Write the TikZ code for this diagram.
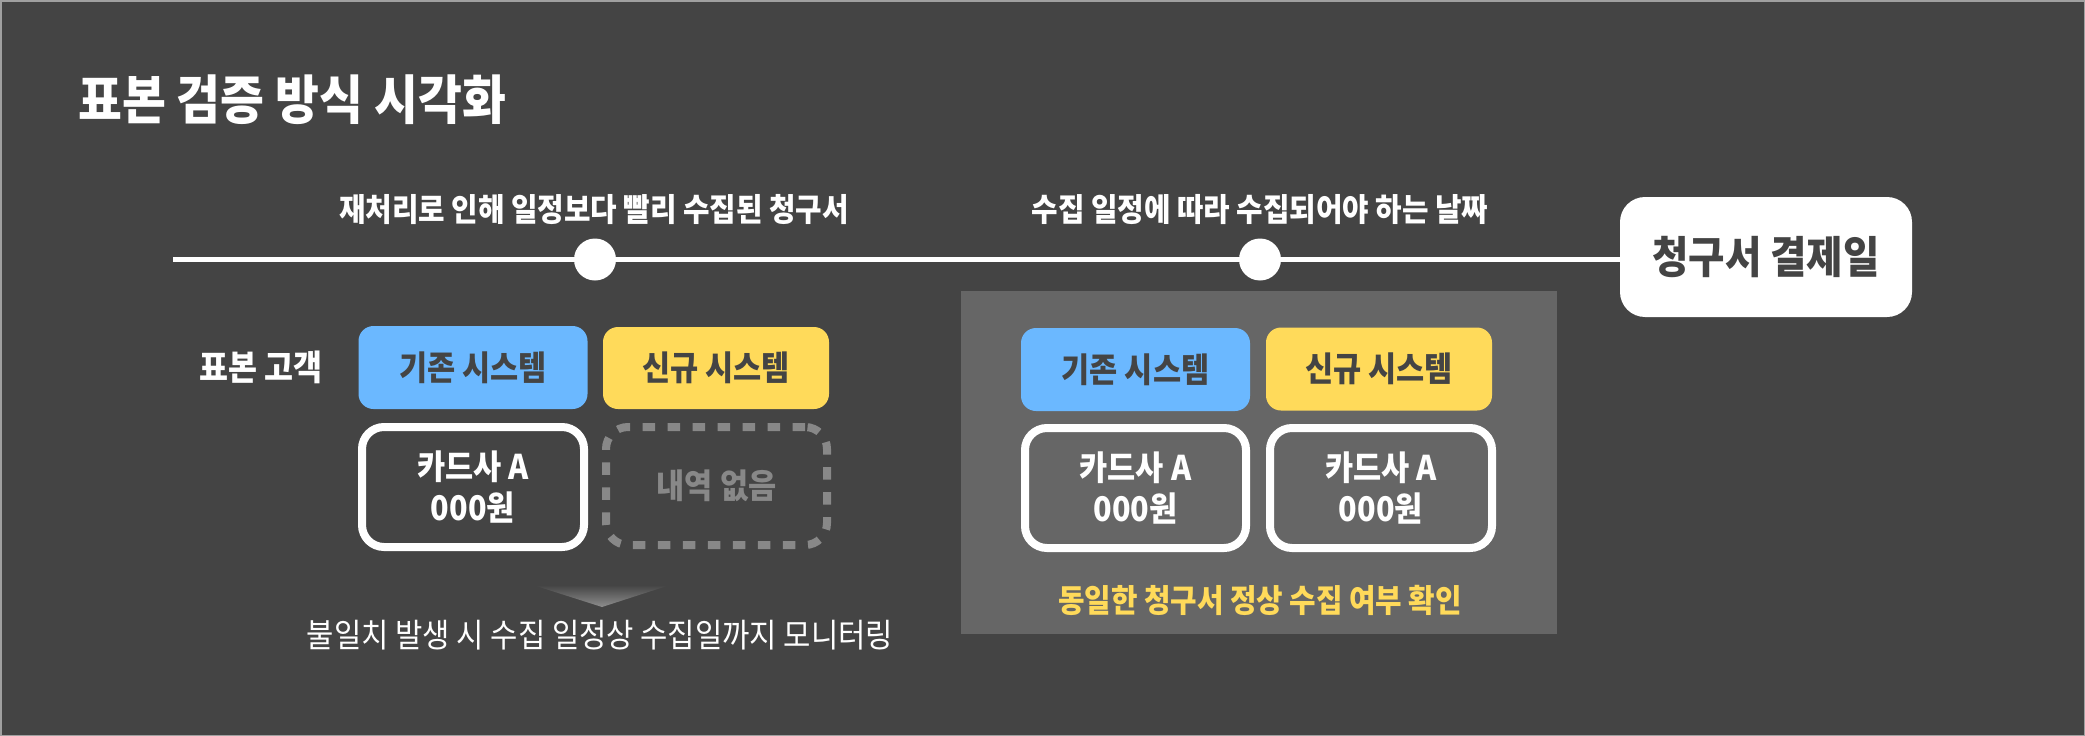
\documentclass[tikz,border=0pt]{standalone}
\usepackage{fontspec}
\newfontfamily\kr{Noto Sans CJK KR}[FakeStretch=0.9]
\definecolor{bg}{HTML}{444444}
\definecolor{panel}{HTML}{666666}
\definecolor{edge}{HTML}{A0A0A0}
\definecolor{sysblue}{HTML}{6BB8FF}
\definecolor{sysyellow}{HTML}{FFDA5A}
\definecolor{dashgray}{HTML}{888888}
\definecolor{tipgray}{HTML}{8E8E8E}
\newcommand{\fsz}[1]{\fontsize{#1}{#1}\selectfont}
\tikzset{
  txt/.style={font=\kr\bfseries\fsz{#1}, text=white, inner sep=0pt},
  sysbox/.style={rounded corners=15, minimum width=229, minimum height=83, inner sep=0pt,
    font=\kr\bfseries\fsz{34}, text=bg},
  cardbox/.style={draw=white, line width=8, rounded corners=22, minimum width=222, minimum height=120,
    inner sep=0pt, align=center, font=\kr\bfseries\fontsize{34}{41}\selectfont, text=white},
  emptybox/.style={draw=dashgray, line width=8, dash pattern=on 12.5 off 12.5, rounded corners=22,
    minimum width=221, minimum height=118, inner sep=0pt, font=\kr\bfseries\fsz{34}, text=dashgray},
  dot/.style={circle, fill=white, minimum size=42, inner sep=0pt},
}
\begin{document}
\begin{tikzpicture}[x=1pt,y=-1pt]
\useasboundingbox (0,0) rectangle (2085,736);
\fill[bg] (0,0) rectangle (2085,736);
\draw[edge, line width=1.5] (0.75,0.75) rectangle (2084.25,735.25);

% title
\node[txt=53, anchor=west] (title) at (78,100) {표본 검증 방식 시각화};

% timeline
\node[txt=32] (lab1) at (594,210) {재처리로 인해 일정보다 빨리 수집된 청구서};
\node[txt=32] (lab2) at (1260,210) {수집 일정에 따라 수집되어야 하는 날짜};
\node[fill=white, rounded corners=25, minimum width=292, minimum height=120, inner sep=0pt,
  font=\kr\bfseries\fsz{44}, text=bg] (pay) at (1766,257) {청구서 결제일};
\coordinate (tstart) at (173,259.5);
\draw[white, line width=5] (tstart) -- (tstart -| pay.west);
\node[dot] (c1) at (595,259.5) {};
\node[dot] (c2) at (1260,259.5) {};

% right panel
\fill[panel] (961,291) rectangle (1557,634);

% left group
\node[txt=35] (cust) at (261,367) {표본 고객};
\node[sysbox, fill=sysblue] (oldL) at (473,367.5) {기존 시스템};
\node[sysbox, fill=sysyellow, minimum width=226, minimum height=82] (newL) at (716,368) {신규 시스템};
\node[cardbox] (cardL) at (473,487) {카드사 A\\000원};
\node[emptybox] (noneL) at (716.5,486) {내역 없음};

\coordinate (triL) at (533,585);
\coordinate (triR) at (670,585);
\coordinate (triT) at (602,607);
\shade[top color=bg, bottom color=tipgray] (triL) -- (triR) -- (triT) -- cycle;
\node[font=\kr\fsz{33}, text=white, inner sep=0pt] (mon) at (600,635) {불일치 발생 시 수집 일정상 수집일까지 모니터링};

% right group
\node[sysbox, fill=sysblue] (oldR) at (1135.5,369.5) {기존 시스템};
\node[sysbox, fill=sysyellow, minimum width=226] (newR) at (1379,369) {신규 시스템};
\node[cardbox, minimum width=221] (cardR1) at (1135.5,488) {카드사 A\\000원};
\node[cardbox] (cardR2) at (1381,488) {카드사 A\\000원};
\node[font=\kr\bfseries\fsz{32}, text=sysyellow, inner sep=0pt] (same) at (1260,600) {동일한 청구서 정상 수집 여부 확인};
\end{tikzpicture}
\end{document}
